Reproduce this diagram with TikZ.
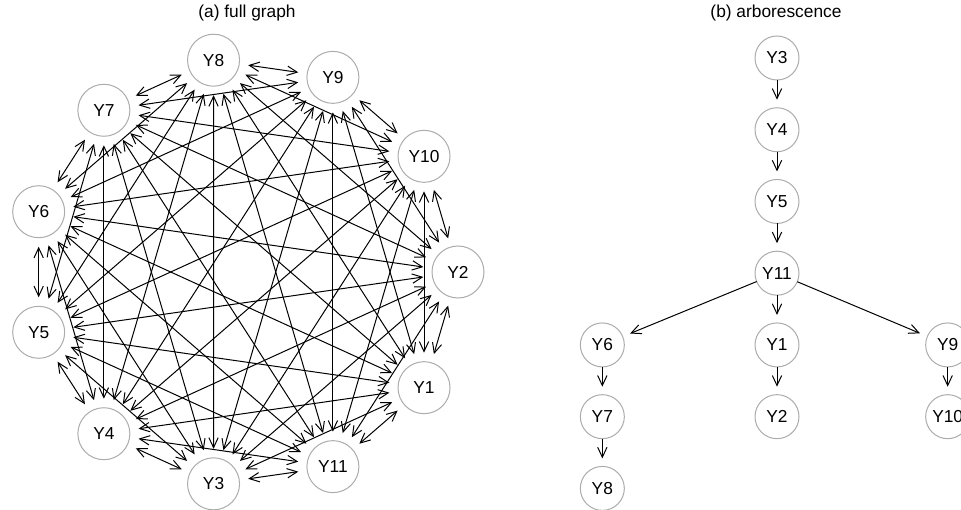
\documentclass[tikz,border=0pt]{standalone}
\usepackage{fontspec}
\setmainfont{Liberation Sans}
\usepackage{xcolor}
\usetikzlibrary{arrows.meta,positioning}
\definecolor{gr-ring}{RGB}{172,172,172}
\definecolor{gr-ink}{RGB}{0,0,0}

\begin{document}
\begin{tikzpicture}[x=0.75pt, y=-0.75pt,
    vtx/.style={circle, draw=gr-ring, line width=0.75pt, fill=white, inner sep=0pt, outer sep=0pt, minimum size=39pt, font=\fontsize{13pt}{15pt}\selectfont},
    tvtx/.style={vtx, minimum size=33pt},
    dedge/.style={{Straight Barb[length=7.5pt,width=7pt]}-{Straight Barb[length=7.5pt,width=7pt]}, draw=gr-ink, line width=0.75pt, shorten <=6.75pt, shorten >=6.75pt},
    tedge/.style={-{Straight Barb[length=7.5pt,width=7pt]}, draw=gr-ink, line width=0.75pt, shorten >=6pt},
    ttl/.style={font=\fontsize{13pt}{15pt}\selectfont}]
    \useasboundingbox (0,0) rectangle (961,510);
    \clip (0,0) rectangle (961,510);

    \node[ttl] (tla) at (247,13) {(a) full graph};
    \node[ttl] (tlb) at (776,13) {(b) arborescence};

    \begin{scope}[shift={(244,272)}]
        \foreach \n/\k in {2/0,10/1,9/2,8/3,7/4,6/5,5/6,4/7,3/8,11/9,1/10}
            \node[vtx] (f\n) at ({-\k*360/11}:214) {Y\n};
    \end{scope}
    \foreach \i in {1,...,10}{
        \pgfmathtruncatemacro{\nx}{\i+1}
        \foreach \j in {\nx,...,11}
            \draw[dedge] (f\i) -- (f\j);
    }

    \node[tvtx] (t3) at (777,58) {Y3};
    \node[tvtx, below=20.8pt of t3] (t4) {Y4};
    \node[tvtx, below=20.8pt of t4] (t5) {Y5};
    \node[tvtx, below=20.8pt of t5] (t11) {Y11};
    \node[tvtx, below=20.8pt of t11] (t1) {Y1};
    \node[tvtx, left=98pt of t1] (t6) {Y6};
    \node[tvtx, right=95pt of t1] (t9) {Y9};
    \node[tvtx, below=20.8pt of t6] (t7) {Y7};
    \node[tvtx, below=20.8pt of t7] (t8) {Y8};
    \node[tvtx, below=20.8pt of t1] (t2) {Y2};
    \node[tvtx, below=20.8pt of t9] (t10) {Y10};

    \draw[tedge] (t3) -- (t4);
    \draw[tedge] (t4) -- (t5);
    \draw[tedge] (t5) -- (t11);
    \draw[tedge] (t11) -- (t6);
    \draw[tedge] (t11) -- (t1);
    \draw[tedge] (t11) -- (t9);
    \draw[tedge] (t6) -- (t7);
    \draw[tedge] (t7) -- (t8);
    \draw[tedge] (t1) -- (t2);
    \draw[tedge] (t9) -- (t10);
\end{tikzpicture}
\end{document}
